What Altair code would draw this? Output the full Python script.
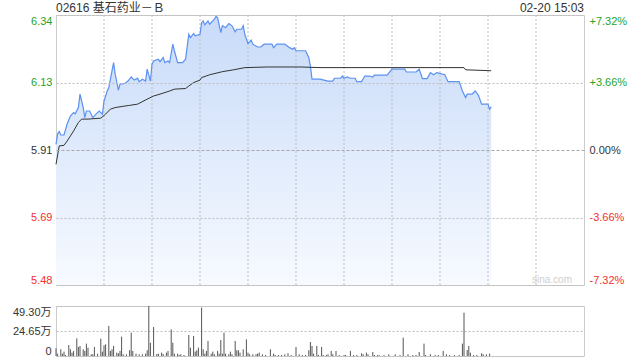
import altair as alt
import pandas as pd

# ---------------- data ----------------
TITLE = "02616 基石药业－Ｂ"
STAMP = "02-20 15:03"
PREV_CLOSE = 5.91
PRICE_TICKS = [5.4774, 5.6937, 5.91, 6.1263, 6.3426]
VOL_TICKS = [0, 24.65, 49.30]
TIME_GRID = [30, 60, 90, 120, 150, 180, 210, 240, 270, 300]

# minutes since 09:30 (lunch break removed: 150 = 12:00/13:00, 330 = 16:00)
price_min = [0, 1, 2, 3, 5, 7, 9, 11, 12, 14, 15, 17, 18, 19, 21, 23, 25, 27, 29, 30,
             32, 33, 34, 36, 37, 39, 40, 43, 45, 47, 49, 51, 52, 54, 56, 57, 59, 60, 61, 64,
             65, 67, 68, 70, 71, 73, 74, 76, 79, 81, 83, 84, 86, 87, 90, 91, 92, 93, 95, 96,
             99, 100, 101, 103, 104, 106, 108, 110, 112, 113, 116, 117, 118, 120, 122, 123, 126, 128, 130, 135,
             136, 138, 143, 146, 148, 149, 150, 156, 158, 159, 160, 165, 170, 173, 174, 178, 179, 180, 182, 184,
             187, 188, 191, 193, 196, 198, 199, 207, 210, 218, 219, 225, 227, 229, 232, 234, 236, 238, 243, 245,
             252, 254, 256, 257, 260, 262, 264, 266, 270, 271, 272]
price_val = [5.928, 5.961, 5.969, 5.958, 5.958, 5.994, 6.019, 6.030, 6.026, 6.046, 6.089, 6.046, 6.014, 6.035, 6.035, 6.014, 6.025, 6.035, 6.025, 6.067,
             6.099, 6.110, 6.137, 6.190, 6.153, 6.102, 6.121, 6.123, 6.131, 6.144, 6.134, 6.140, 6.129, 6.137, 6.131, 6.169, 6.131, 6.185, 6.195, 6.201,
             6.193, 6.206, 6.190, 6.195, 6.190, 6.249, 6.228, 6.190, 6.190, 6.201, 6.281, 6.270, 6.283, 6.276, 6.281, 6.318, 6.324, 6.311, 6.324, 6.313,
             6.329, 6.338, 6.334, 6.286, 6.308, 6.302, 6.315, 6.308, 6.289, 6.297, 6.297, 6.308, 6.281, 6.251, 6.262, 6.249, 6.240, 6.240, 6.249, 6.249,
             6.238, 6.249, 6.249, 6.238, 6.233, 6.238, 6.228, 6.228, 6.206, 6.179, 6.137, 6.137, 6.131, 6.131, 6.140, 6.140, 6.147, 6.140, 6.144, 6.140,
             6.140, 6.129, 6.129, 6.147, 6.147, 6.144, 6.150, 6.150, 6.169, 6.169, 6.160, 6.160, 6.169, 6.139, 6.139, 6.158, 6.151, 6.158, 6.151, 6.129,
             6.129, 6.099, 6.078, 6.089, 6.089, 6.099, 6.085, 6.057, 6.057, 6.041, 6.048]

avg_min = [0, 2, 5, 7, 9, 11, 14, 16, 20, 28, 31, 34, 37, 42, 46, 51, 57, 61, 65, 71,
           74, 81, 83, 86, 90, 91, 96, 104, 111, 118, 132, 153, 165, 255, 256, 272]
avg_val = [5.864, 5.923, 5.925, 5.939, 5.955, 5.971, 5.998, 6.009, 6.009, 6.012, 6.025, 6.041, 6.046, 6.050, 6.053, 6.057, 6.073, 6.083, 6.089, 6.099,
           6.105, 6.107, 6.115, 6.126, 6.134, 6.142, 6.151, 6.161, 6.167, 6.174, 6.176, 6.176, 6.174, 6.174, 6.167, 6.164]

# volume (万)
vol_min = [0, 1, 3, 4, 5, 6, 8, 9, 10, 11, 13, 14, 15, 17, 18, 19, 20, 22, 23, 24,
           26, 28, 29, 30, 31, 33, 34, 35, 36, 38, 39, 40, 41, 42, 44, 46, 47, 48, 50, 52,
           54, 56, 57, 58, 59, 61, 63, 64, 66, 67, 69, 70, 72, 73, 74, 76, 77, 78, 80, 83,
           84, 86, 87, 88, 89, 91, 92, 93, 94, 95, 97, 98, 99, 101, 102, 103, 104, 105, 106, 108,
           109, 110, 112, 113, 114, 115, 117, 119, 120, 121, 123, 125, 126, 127, 129, 131, 134, 136, 137, 139,
           141, 143, 145, 147, 150, 152, 154, 156, 158, 159, 160, 161, 163, 164, 166, 167, 169, 170, 172, 173,
           175, 177, 180, 181, 184, 186, 188, 191, 192, 194, 195, 198, 199, 201, 202, 205, 208, 212, 215, 217,
           220, 223, 225, 227, 230, 231, 234, 237, 239, 242, 244, 246, 249, 252, 254, 255, 257, 258, 259, 261,
           263, 266, 267, 269, 271]
vol_val = [7.6, 2.3, 6.6, 2.3, 4.3, 1.0, 10.8, 6.6, 3.3, 5.0, 17.4, 8.9, 9.9, 6.6, 5.0, 12.2, 8.2, 1.7, 1.7, 8.9,
           2.3, 17.1, 4.3, 10.5, 11.5, 29.6, 5.0, 6.6, 9.9, 3.3, 2.7, 5.0, 19.1, 1.7, 1.7, 5.7, 23.0, 5.0, 2.3, 1.7,
           1.7, 2.3, 5.7, 49.3, 13.1, 28.6, 2.0, 2.3, 3.3, 2.0, 3.3, 5.0, 26.3, 13.1, 2.3, 2.3, 1.0, 1.7, 1.0, 20.7,
           8.3, 19.7, 4.3, 5.7, 8.3, 47.7, 6.6, 2.3, 5.0, 14.8, 2.3, 4.3, 1.7, 5.0, 2.3, 15.8, 2.3, 23.0, 2.3, 1.7,
           4.3, 1.7, 14.8, 5.7, 5.7, 3.3, 6.6, 16.4, 3.3, 1.7, 1.7, 1.7, 2.3, 3.3, 1.7, 1.0, 6.6, 2.3, 1.0, 1.0,
           1.0, 1.7, 2.7, 1.0, 8.9, 1.7, 1.0, 1.0, 5.7, 13.8, 9.9, 2.3, 9.9, 1.0, 8.9, 1.0, 1.0, 1.7, 5.0, 1.7,
           5.0, 1.0, 1.0, 1.0, 5.0, 1.0, 1.0, 2.7, 1.7, 3.3, 1.7, 4.0, 1.0, 1.0, 0.7, 1.0, 1.7, 1.7, 1.0, 18.1,
           1.7, 1.0, 1.0, 4.0, 12.2, 1.0, 1.7, 1.0, 1.0, 5.0, 1.7, 1.0, 1.0, 1.0, 12.2, 42.7, 5.9, 9.9, 3.3, 1.0,
           1.0, 2.7, 1.7, 1.7, 2.3]

price_df = pd.DataFrame({"m": price_min, "price": price_val})
avg_df = pd.DataFrame({"m": avg_min, "avg": avg_val})
vol_df = pd.DataFrame({"m": vol_min, "vol": vol_val})
grid_df = pd.DataFrame({"m": TIME_GRID})

# ---------------- style ----------------
FONT = "Liberation Sans, Arial, Noto Sans CJK SC"
GREEN = "#27a327"
RED = "#f23030"
GRID = "#bdbdbd"
BORDER = "#cccccc"
W = 528
LO, HI = PRICE_TICKS[0], PRICE_TICKS[-1]

x_scale = alt.Scale(domain=[0, 330], nice=False, zero=False)
y_scale = alt.Scale(domain=[LO, HI], nice=False, zero=False)

x_axis = alt.Axis(
    values=[0, 150, 330], grid=False,
    ticks=False, domain=False, labelFlush=True, labelOverlap=False,
    labelExpr="datum.value == 0 ? '09:30' : datum.value == 150 ? '12:00/13:00' : '16:00'",
    labelFontSize=11, labelColor="#333333", labelPadding=4, labelFont=FONT, title=None,
)
label_color = {
    "condition": [
        {"test": "datum.value > 5.92", "value": GREEN},
        {"test": "datum.value < 5.90", "value": RED},
    ],
    "value": "#333333",
}
left_axis = alt.Axis(
    values=PRICE_TICKS, format=".2f", grid=True, gridWidth=1,
    gridColor={"condition": {"test": "abs(datum.value - 5.91) < 0.001", "value": "#a8a8a8"}, "value": GRID},
    gridDash={"condition": {"test": "abs(datum.value - 5.91) < 0.001", "value": [3, 2]}, "value": [2, 2]},
    ticks=False, domain=False, labelFlush=True, labelFontSize=11, labelFont=FONT, zindex=1,
    labelPadding=4, labelColor=label_color, title=None,
)
right_axis = alt.Axis(
    orient="right", values=PRICE_TICKS, grid=False, ticks=False, domain=False,
    labelFlush=True, labelFontSize=11, labelFont=FONT, labelPadding=5, labelColor=label_color,
    labelExpr="(datum.value / 5.91 - 1 > 0.0005 ? '+' : datum.value / 5.91 - 1 < -0.0005 ? '-' : '') + format(abs(datum.value / 5.91 - 1) * 100, '.2f') + '%'",
    title=None,
)
X = alt.X("m:Q", scale=x_scale, axis=x_axis)
Xn = alt.X("m:Q", scale=x_scale, axis=None)

area = alt.Chart(price_df).mark_area(
    color=alt.Gradient(
        gradient="linear", x1=0, x2=0, y1=0, y2=1,
        stops=[alt.GradientStop(color="#c8dbf9", offset=0),
               alt.GradientStop(color="#f7faff", offset=1)],
    )
).encode(x=X, y=alt.Y("price:Q", scale=y_scale, axis=left_axis), y2=alt.datum(LO))

vgrid = alt.Chart(grid_df).mark_rule(color=GRID, strokeWidth=1, strokeDash=[2, 2]).encode(
    x=Xn,
    y=alt.YDatum(datum=LO, scale=y_scale, axis=None),
    y2=alt.Y2Datum(datum=HI),
)

line = alt.Chart(price_df).mark_line(color="#5b91f0", strokeWidth=1.2).encode(
    x=Xn, y=alt.Y("price:Q", scale=y_scale, axis=None)
)
avg = alt.Chart(avg_df).mark_line(color="#333333", strokeWidth=1).encode(
    x=Xn, y=alt.Y("avg:Q", scale=y_scale, axis=None)
)
right = alt.Chart(price_df).mark_line(opacity=0).encode(
    x=Xn, y=alt.Y("price:Q", scale=y_scale, axis=right_axis)
)

title_txt = alt.Chart(pd.DataFrame({"t": [TITLE]})).mark_text(
    align="left", baseline="middle", fontSize=12, font=FONT, color="#333333"
).encode(text="t:N", x=alt.value(0), y=alt.value(-7))
stamp_txt = alt.Chart(pd.DataFrame({"t": [STAMP]})).mark_text(
    align="right", baseline="middle", fontSize=12, font=FONT, color="#333333"
).encode(text="t:N", x=alt.value(W), y=alt.value(-7))
mark_txt = alt.Chart(pd.DataFrame({"t": ["sina.com"]})).mark_text(
    align="right", baseline="middle", fontSize=10, font=FONT, color="#cfcfcf"
).encode(text="t:N", x=alt.value(W - 12), y=alt.value(265))

main = alt.layer(area, vgrid, line, avg, right, title_txt, stamp_txt, mark_txt).resolve_axis(
    y="independent"
).properties(width=W, height=270)

vol_axis = alt.Axis(
    values=VOL_TICKS, grid=True, gridColor=GRID, gridDash=[2, 2], ticks=False, domain=False,
    labelFlush=True, labelFontSize=11, labelFont=FONT, labelColor="#333333", labelPadding=5,
    labelExpr="datum.value == 0 ? '0' : format(datum.value, '.2f') + '万'", title=None,
)
vol = alt.Chart(vol_df).mark_rule(color="#555555", strokeWidth=1).encode(
    x=alt.X("m:Q", scale=x_scale, axis=None),
    y=alt.Y("vol:Q", scale=alt.Scale(domain=[0, 49.3], nice=False), axis=vol_axis),
    y2=alt.datum(0),
).properties(width=W, height=50)

chart = alt.vconcat(main, vol, spacing=21, bounds="flush").properties(
    padding={"left": 11, "top": 1, "right": 0, "bottom": 5},
    background="white",
).configure_view(stroke=BORDER)

chart.save("out.html", embed_options={"renderer": "svg", "actions": False})
